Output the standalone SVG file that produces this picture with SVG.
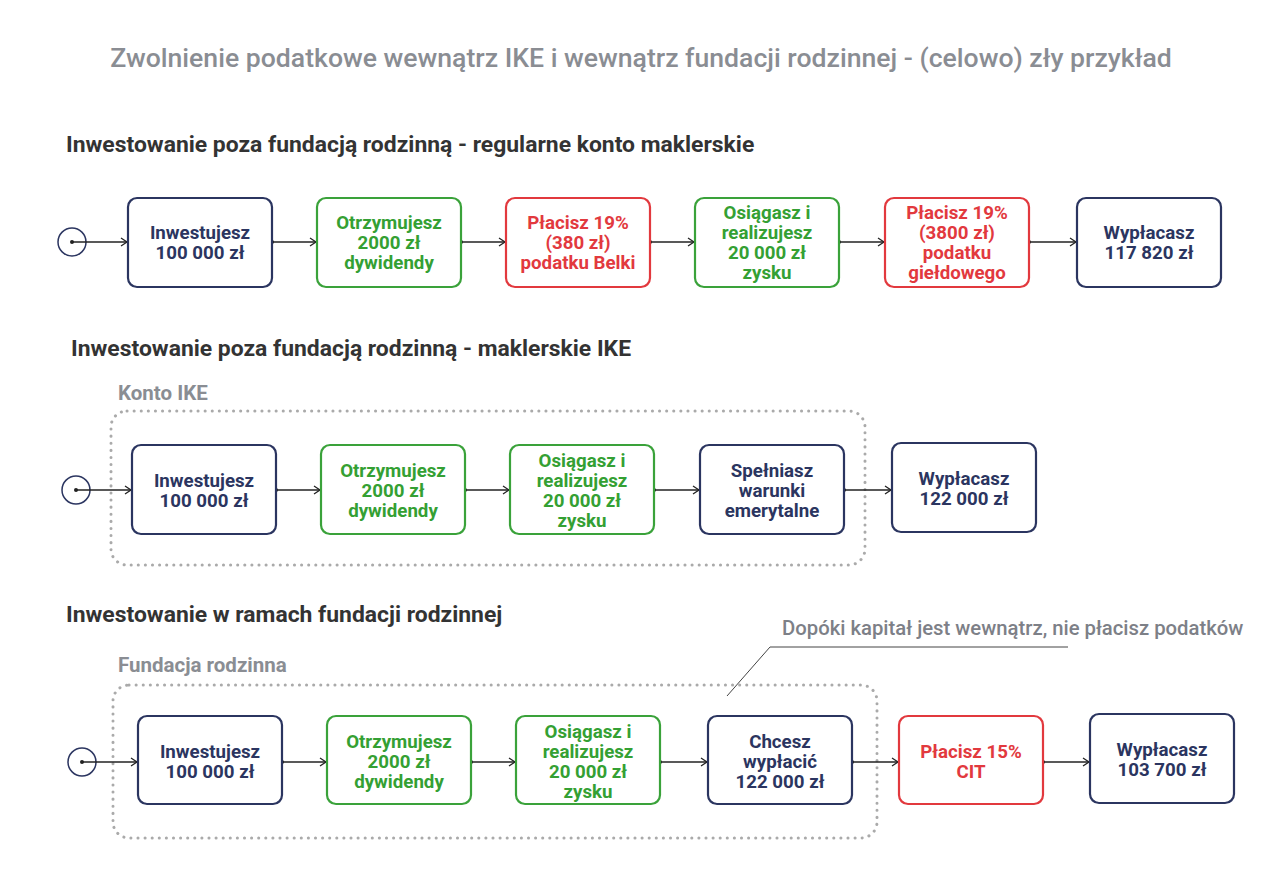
<svg xmlns="http://www.w3.org/2000/svg" width="1280" height="880" viewBox="0 0 1280 880">
<style>
text{font-family:Roboto,"Liberation Sans",sans-serif;}
.t{font-size:18.7px;font-weight:bold;text-anchor:middle;}
.n rect{fill:#fff;stroke:#2b3560;stroke-width:2.2;}
.g rect{fill:#fff;stroke:#3aa23a;stroke-width:2.2;}
.r rect{fill:#fff;stroke:#e2393e;stroke-width:2.2;}
.n text{fill:#2b3560}.g text{fill:#34a033}.r text{fill:#e2393e}
.h{font-size:22.9px;font-weight:bold;fill:#333;}
.gl{font-size:20.5px;font-weight:bold;fill:#8a8d93;}
.c line{stroke:#222;stroke-width:1.3;marker-end:url(#a);marker-start:url(#d)}
.fr{fill:none;stroke:#aaa;stroke-width:3;stroke-dasharray:0.1 7;stroke-linecap:round}
</style>
<defs>
<marker id="a" markerWidth="10" markerHeight="10" refX="8" refY="5" orient="auto" markerUnits="userSpaceOnUse"><path d="M2,1 L8,5 L2,9" fill="none" stroke="#222" stroke-width="1.3"/></marker>
<marker id="d" markerWidth="6" markerHeight="6" refX="3" refY="3" markerUnits="userSpaceOnUse"><circle cx="3" cy="3" r="2" fill="#222"/></marker>
</defs>
<text x="641" y="67" text-anchor="middle" style="font-size:26.6px;font-weight:500;fill:#8a8d93">Zwolnienie podatkowe wewnątrz IKE i wewnątrz fundacji rodzinnej - (celowo) zły przykład</text>
<text class="h" x="66" y="152">Inwestowanie poza fundacją rodzinną - regularne konto maklerskie</text>
<text class="h" x="71" y="356">Inwestowanie poza fundacją rodzinną - maklerskie IKE</text>
<text class="h" x="66" y="622">Inwestowanie w ramach fundacji rodzinnej</text>
<rect class="fr" x="111" y="411" width="754" height="154" rx="16"/>
<text class="gl" x="118" y="400">Konto IKE</text>
<rect class="fr" x="113" y="685" width="764" height="153" rx="16"/>
<text class="gl" x="118" y="672">Fundacja rodzinna</text>
<text x="782" y="635" style="font-size:20.3px;font-weight:500;fill:#7d8087">Dopóki kapitał jest wewnątrz, nie płacisz podatków</text>
<polyline points="727,696 770,647 1068,647" fill="none" stroke="#444" stroke-width="1"/>
<g fill="#fff" stroke="#2b3560" stroke-width="1.5">
<circle cx="72" cy="242" r="14"/><circle cx="76" cy="490" r="14"/><circle cx="82" cy="762" r="14"/>
</g>
<g id="connectors" class="c">
<line x1="72" y1="242" x2="127" y2="242"/><line x1="272" y1="242" x2="316" y2="242"/><line x1="461" y1="242" x2="505" y2="242"/><line x1="650" y1="242" x2="694" y2="242"/><line x1="839" y1="242" x2="884" y2="242"/><line x1="1029" y1="242" x2="1076" y2="242"/>
<line x1="76" y1="490" x2="131" y2="490"/><line x1="276" y1="490" x2="320" y2="490"/><line x1="465" y1="490" x2="509" y2="490"/><line x1="654" y1="490" x2="699" y2="490"/><line x1="844" y1="490" x2="891" y2="490"/>
<line x1="82" y1="762" x2="137" y2="762"/><line x1="282" y1="762" x2="326" y2="762"/><line x1="471" y1="762" x2="515" y2="762"/><line x1="660" y1="762" x2="707" y2="762"/><line x1="852" y1="762" x2="898" y2="762"/><line x1="1043" y1="762" x2="1089" y2="762"/>
</g>
<g id="r1a" class="n"><rect x="128" y="198" width="144" height="89" rx="9"/><text class="t" y="239"><tspan x="200">Inwestujesz</tspan><tspan x="200" dy="20">100 000 zł</tspan></text></g>
<g id="r1b" class="g"><rect x="317" y="198" width="144" height="89" rx="9"/><text class="t" y="229"><tspan x="389">Otrzymujesz</tspan><tspan x="389" dy="20">2000 zł</tspan><tspan x="389" dy="20">dywidendy</tspan></text></g>
<g id="r1c" class="r"><rect x="506" y="198" width="144" height="89" rx="9"/><text class="t" y="229"><tspan x="578">Płacisz 19%</tspan><tspan x="578" dy="20">(380 zł)</tspan><tspan x="578" dy="20">podatku Belki</tspan></text></g>
<g id="r1d" class="g"><rect x="695" y="198" width="144" height="89" rx="9"/><text class="t" y="219"><tspan x="767">Osiągasz i</tspan><tspan x="767" dy="20">realizujesz</tspan><tspan x="767" dy="20">20 000 zł</tspan><tspan x="767" dy="20">zysku</tspan></text></g>
<g id="r1e" class="r"><rect x="885" y="198" width="144" height="89" rx="9"/><text class="t" y="219"><tspan x="957">Płacisz 19%</tspan><tspan x="957" dy="20">(3800 zł)</tspan><tspan x="957" dy="20">podatku</tspan><tspan x="957" dy="20">giełdowego</tspan></text></g>
<g id="r1f" class="n"><rect x="1077" y="198" width="144" height="89" rx="9"/><text class="t" y="239"><tspan x="1149">Wypłacasz</tspan><tspan x="1149" dy="20">117 820 zł</tspan></text></g>
<g id="r2a" class="n"><rect x="132" y="445" width="144" height="89" rx="9"/><text class="t" y="487"><tspan x="204">Inwestujesz</tspan><tspan x="204" dy="20">100 000 zł</tspan></text></g>
<g id="r2b" class="g"><rect x="321" y="445" width="144" height="89" rx="9"/><text class="t" y="477"><tspan x="393">Otrzymujesz</tspan><tspan x="393" dy="20">2000 zł</tspan><tspan x="393" dy="20">dywidendy</tspan></text></g>
<g id="r2c" class="g"><rect x="510" y="445" width="144" height="89" rx="9"/><text class="t" y="467"><tspan x="582">Osiągasz i</tspan><tspan x="582" dy="20">realizujesz</tspan><tspan x="582" dy="20">20 000 zł</tspan><tspan x="582" dy="20">zysku</tspan></text></g>
<g id="r2d" class="n"><rect x="700" y="445" width="144" height="89" rx="9"/><text class="t" y="477"><tspan x="772">Spełniasz</tspan><tspan x="772" dy="20">warunki</tspan><tspan x="772" dy="20">emerytalne</tspan></text></g>
<g id="r2e" class="n"><rect x="892" y="443" width="144" height="89" rx="9"/><text class="t" y="485"><tspan x="964">Wypłacasz</tspan><tspan x="964" dy="20">122 000 zł</tspan></text></g>
<g id="r3a" class="n"><rect x="138" y="716" width="144" height="88" rx="9"/><text class="t" y="758"><tspan x="210">Inwestujesz</tspan><tspan x="210" dy="20">100 000 zł</tspan></text></g>
<g id="r3b" class="g"><rect x="327" y="716" width="144" height="88" rx="9"/><text class="t" y="748"><tspan x="399">Otrzymujesz</tspan><tspan x="399" dy="20">2000 zł</tspan><tspan x="399" dy="20">dywidendy</tspan></text></g>
<g id="r3c" class="g"><rect x="516" y="716" width="144" height="88" rx="9"/><text class="t" y="738"><tspan x="588">Osiągasz i</tspan><tspan x="588" dy="20">realizujesz</tspan><tspan x="588" dy="20">20 000 zł</tspan><tspan x="588" dy="20">zysku</tspan></text></g>
<g id="r3d" class="n"><rect x="708" y="716" width="144" height="88" rx="9"/><text class="t" y="748"><tspan x="780">Chcesz</tspan><tspan x="780" dy="20">wypłacić</tspan><tspan x="780" dy="20">122 000 zł</tspan></text></g>
<g id="r3e" class="r"><rect x="899" y="716" width="144" height="88" rx="9"/><text class="t" y="758"><tspan x="971">Płacisz 15%</tspan><tspan x="971" dy="20">CIT</tspan></text></g>
<g id="r3f" class="n"><rect x="1090" y="714" width="144" height="89" rx="9"/><text class="t" y="756"><tspan x="1162">Wypłacasz</tspan><tspan x="1162" dy="20">103 700 zł</tspan></text></g>
</svg>
